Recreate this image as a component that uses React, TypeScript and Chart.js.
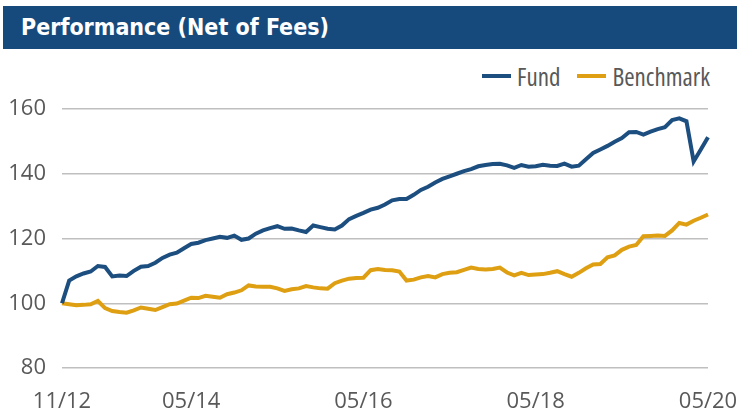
import React, { useEffect, useRef } from "react";
import { Chart, registerables } from "chart.js";

Chart.register(...registerables);

const MONTHS: string[] = [
  "11/12", "12/12",
  "01/13", "02/13", "03/13", "04/13", "05/13", "06/13", "07/13", "08/13", "09/13", "10/13", "11/13", "12/13",
  "01/14", "02/14", "03/14", "04/14", "05/14", "06/14", "07/14", "08/14", "09/14", "10/14", "11/14", "12/14",
  "01/15", "02/15", "03/15", "04/15", "05/15", "06/15", "07/15", "08/15", "09/15", "10/15", "11/15", "12/15",
  "01/16", "02/16", "03/16", "04/16", "05/16", "06/16", "07/16", "08/16", "09/16", "10/16", "11/16", "12/16",
  "01/17", "02/17", "03/17", "04/17", "05/17", "06/17", "07/17", "08/17", "09/17", "10/17", "11/17", "12/17",
  "01/18", "02/18", "03/18", "04/18", "05/18", "06/18", "07/18", "08/18", "09/18", "10/18", "11/18", "12/18",
  "01/19", "02/19", "03/19", "04/19", "05/19", "06/19", "07/19", "08/19", "09/19", "10/19", "11/19", "12/19",
  "01/20", "02/20", "03/20", "04/20", "05/20",
];

const TICK_LABELS: string[] = ["11/12", "05/14", "05/16", "05/18", "05/20"];

const FUND: number[] = [
  100, 107, 108.3, 109.2, 109.8, 111.5, 111.2, 108.3, 108.6, 108.4,
  110, 111.3, 111.5, 112.5, 114, 115, 115.6, 117, 118.3, 118.7,
  119.5, 120, 120.5, 120.2, 120.9, 119.6, 120, 121.5, 122.5, 123.2,
  123.8, 123, 123.1, 122.5, 122, 124, 123.5, 123, 122.8, 124,
  126, 127, 127.9, 128.9, 129.5, 130.5, 131.8, 132.2, 132.2, 133.5,
  135, 136, 137.3, 138.4, 139.2, 140, 140.8, 141.4, 142.3, 142.7,
  143, 143.1, 142.6, 141.8, 142.7, 142.2, 142.3, 142.8, 142.5, 142.4,
  143.1, 142.2, 142.5, 144.5, 146.4, 147.5, 148.6, 149.9, 151, 152.8,
  152.9, 152.1, 153, 153.8, 154.4, 156.6, 157.1, 156.2, 143.8, 147.5,
  151.3,
];

const BENCHMARK: number[] = [
  100, 99.7, 99.4, 99.5, 99.7, 100.7, 98.5, 97.6, 97.3, 97.1,
  97.8, 98.7, 98.3, 97.9, 98.8, 99.7, 99.9, 100.8, 101.7, 101.6,
  102.3, 102, 101.7, 102.8, 103.3, 104, 105.5, 105.2, 105.1, 105.1,
  104.6, 103.8, 104.3, 104.6, 105.3, 104.9, 104.6, 104.5, 106.2, 107,
  107.6, 107.8, 107.9, 110.2, 110.6, 110.3, 110.2, 109.8, 107, 107.3,
  108, 108.4, 108, 109, 109.4, 109.6, 110.3, 111, 110.6, 110.4,
  110.6, 111, 109.5, 108.6, 109.4, 108.7, 108.9, 109, 109.4, 109.9,
  109, 108.2, 109.4, 110.8, 112, 112.1, 114.2, 114.8, 116.5, 117.5,
  118, 120.7, 120.8, 120.9, 120.8, 122.5, 124.8, 124.3, 125.5, 126.4,
  127.4,
];

const SERIES = [
  { name: "Fund", values: FUND, color: "#1d4e80" },
  { name: "Benchmark", values: BENCHMARK, color: "#de9f12" },
];

const TITLE = "Performance (Net of Fees)";
const FONT = "'Open Sans', 'Noto Sans', sans-serif";
const TEXT_COLOR = "#595959";
const TICK_FONT: any = { family: FONT, size: 22, style: "condensed", weight: "normal" };

export default function App() {
  const canvasRef = useRef<HTMLCanvasElement | null>(null);

  useEffect(() => {
    if (!canvasRef.current) return;
    const chart = new Chart(canvasRef.current, {
      type: "line",
      data: {
        labels: MONTHS,
        datasets: SERIES.map((s) => ({
          label: s.name,
          data: s.values,
          borderColor: s.color,
          backgroundColor: s.color,
          borderWidth: 4,
          pointRadius: 0,
          tension: 0,
          fill: false,
        })),
      },
      options: {
        animation: false,
        responsive: false,
        maintainAspectRatio: false,
        layout: { padding: { top: 60, right: 29, left: 0, bottom: 0 } },
        plugins: {
          legend: { display: false },
          tooltip: { enabled: false },
        },
        scales: {
          x: {
            type: "category",
            offset: false,
            grid: { display: false },
            border: { display: false },
            afterFit: (scale: any) => {
              scale.height = 44;
              scale.paddingLeft = 0;
              scale.paddingRight = 0;
            },
            ticks: {
              autoSkip: false,
              maxRotation: 0,
              minRotation: 0,
              padding: 13,
              color: TEXT_COLOR,
              font: TICK_FONT,
              callback: function (this: any, value: any) {
                const lbl = MONTHS[value as number];
                return TICK_LABELS.includes(lbl) ? lbl : "";
              },
            },
          },
          y: {
            min: 80,
            max: 160,
            afterFit: (scale: any) => {
              scale.width = 62;
              scale.paddingTop = 0;
              scale.paddingBottom = 0;
            },
            grid: {
              color: "#bfbfbf",
              lineWidth: 1.5,
              drawTicks: false,
            },
            border: { display: false },
            ticks: {
              stepSize: 20,
              padding: 16,
              color: TEXT_COLOR,
              font: TICK_FONT,
            },
          },
        },
      },
    });
    return () => chart.destroy();
  }, []);

  return (
    <div
      style={{
        position: "absolute",
        left: 0,
        top: 0,
        width: 737,
        height: 412,
        background: "#ffffff",
        overflow: "hidden",
      }}
    >
      <div
        style={{
          position: "absolute",
          left: 3,
          top: 6,
          width: 734,
          height: 43,
          background: "#174a7c",
          color: "#ffffff",
          fontFamily: "'DejaVu Sans Condensed', 'DejaVu Sans', sans-serif",
          fontStretch: "condensed",
          fontWeight: "bold",
          fontSize: 23,
          lineHeight: "43px",
          paddingLeft: 18,
          boxSizing: "border-box",
          whiteSpace: "nowrap",
        }}
      >
        {TITLE}
      </div>
      <div
        style={{
          position: "absolute",
          left: 482,
          top: 61,
          height: 30,
          display: "flex",
          alignItems: "center",
          fontFamily: FONT,
          fontStretch: "condensed",
          fontSize: 25,
          lineHeight: "30px",
          color: TEXT_COLOR,
          whiteSpace: "nowrap",
        }}
      >
        {SERIES.map((s, i) => (
          <div
            key={s.name}
            style={{ display: "flex", alignItems: "center", marginRight: i < SERIES.length - 1 ? 17 : 0 }}
          >
            <span
              style={{
                display: "inline-block",
                width: 29,
                height: 4,
                background: s.color,
                marginRight: 6,
                position: "relative",
                top: 0,
              }}
            />
            <span>{s.name}</span>
          </div>
        ))}
      </div>
      <canvas
        ref={canvasRef}
        width={737}
        height={363}
        style={{ position: "absolute", left: 0, top: 49, width: 737, height: 363 }}
      />
    </div>
  );
}
